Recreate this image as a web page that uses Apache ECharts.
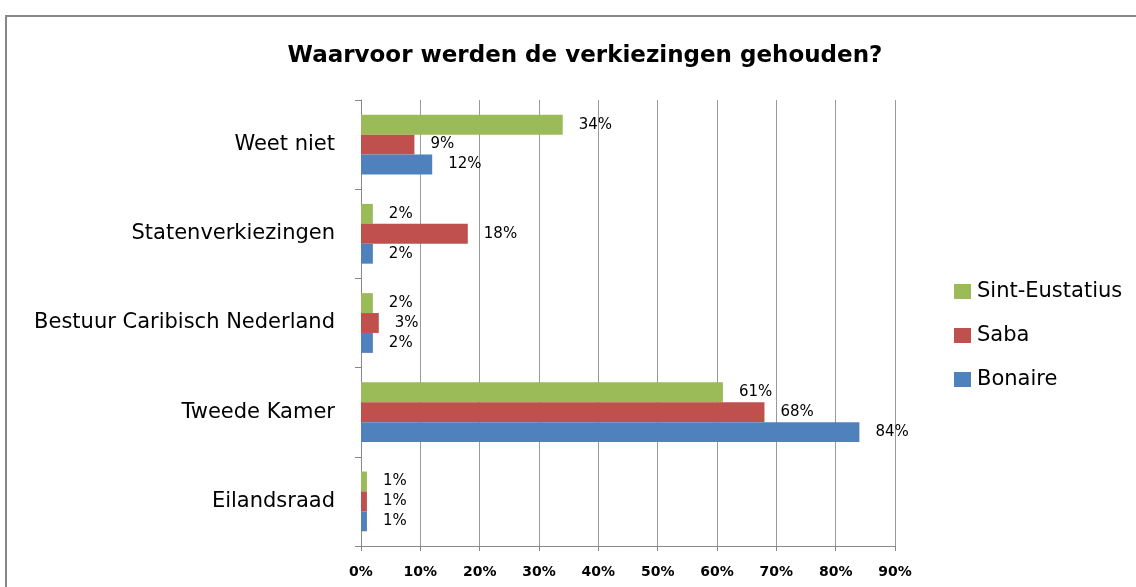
<!DOCTYPE html>
<html>
<head>
<meta charset="utf-8">
<script src="https://cdn.jsdelivr.net/npm/echarts@6/dist/echarts.min.js"></script>
<style>
html, body { margin: 0; padding: 0; background: #fff; }
#chart { width: 1136px; height: 587px; }
</style>
</head>
<body>
<div id="chart"></div>
<script>
// categories, bottom to top
const categories = ['Eilandsraad', 'Tweede Kamer', 'Bestuur Caribisch Nederland', 'Statenverkiezingen', 'Weet niet'];
const sintEustatius = [1, 61, 2, 2, 34];
const saba = [1, 68, 3, 18, 9];
const bonaire = [1, 84, 2, 2, 12];
const xTicks = [0, 10, 20, 30, 40, 50, 60, 70, 80, 90];

const myChart = echarts.init(document.getElementById('chart'));
const fontFam = 'DejaVu Sans';

const labelStyle = {
    show: true,
    position: 'right',
    distance: 16,
    color: '#000',
    fontFamily: fontFam,
    fontSize: 15,
    formatter: '{c}%'
};

const mkSeries = (name, data, color) => ({
    name: name,
    type: 'bar',
    data: data,
    barGap: '0%',
    barCategoryGap: '33%',
    itemStyle: { color: color },
    label: labelStyle
});

const option = {
    backgroundColor: '#fff',
    animation: false,
    title: {
        text: 'Waarvoor werden de verkiezingen gehouden?',
        left: 580,
        textAlign: 'center',
        top: 40,
        textStyle: { color: '#000', fontSize: 23, fontWeight: 'bold', fontFamily: fontFam }
    },
    legend: {
        orient: 'vertical',
        left: 954,
        top: 281,
        padding: 0,
        itemGap: 23,
        itemWidth: 17,
        itemHeight: 15,
        icon: 'rect',
        data: ['Sint-Eustatius', 'Saba', 'Bonaire'],
        textStyle: { color: '#000', fontSize: 21, fontFamily: fontFam, padding: [0, 0, 0, 1] }
    },
    grid: { left: 361, right: 241, top: 100, bottom: 41 },
    xAxis: {
        type: 'value',
        min: 0,
        max: 90,
        interval: 10,
        axisLine: { show: true, lineStyle: { color: '#888' } },
        axisTick: { show: true, length: 5, lineStyle: { color: '#888' } },
        axisLabel: {
            formatter: v => xTicks.includes(v) ? v + '%' : '',
            color: '#000', fontSize: 14, fontWeight: 'bold', fontFamily: fontFam, margin: 19
        },
        splitLine: { lineStyle: { color: '#999', width: 1 } }
    },
    yAxis: {
        type: 'category',
        data: categories,
        axisLine: { show: true, lineStyle: { color: '#888' } },
        axisTick: { show: true, length: 6, lineStyle: { color: '#888' } },
        axisLabel: { color: '#000', fontSize: 21, fontFamily: fontFam, margin: 26 }
    },
    graphic: [{
        type: 'rect',
        shape: { x: 6, y: 16, width: 1200, height: 640 },
        style: { fill: 'none', stroke: '#888', lineWidth: 2 }
    }],
    series: [
        mkSeries('Sint-Eustatius', sintEustatius, '#9BBB59'),
        mkSeries('Saba', saba, '#C0504D'),
        mkSeries('Bonaire', bonaire, '#4F81BD')
    ]
};

myChart.setOption(option);
</script>
</body>
</html>
